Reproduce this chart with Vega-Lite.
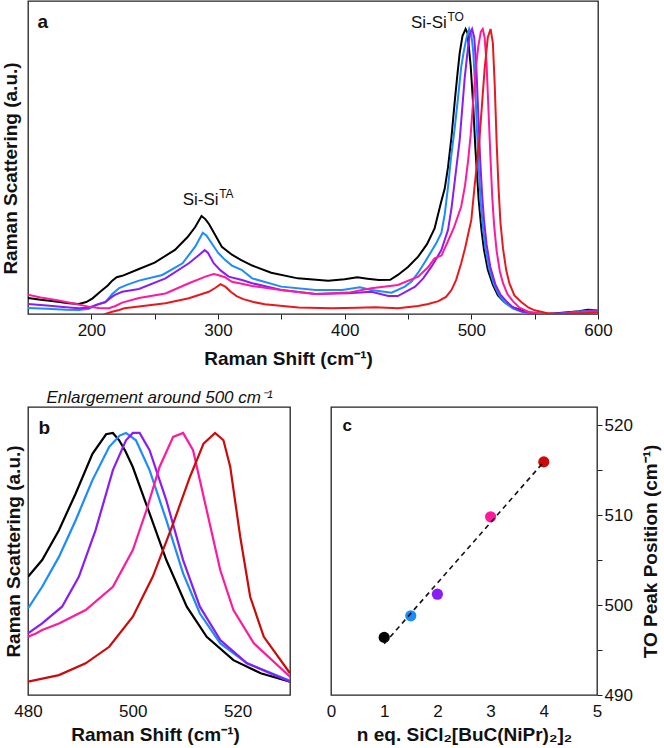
{
"$schema": "https://vega.github.io/schema/vega-lite/v6.json",
"background": "white",
"padding": {"left": 0, "top": 0, "right": 0, "bottom": 0},
"config": {
  "font": "Liberation Sans",
  "view": {"stroke": "#222222", "strokeWidth": 1.3},
  "axis": {"labelFont": "Liberation Sans", "titleFont": "Liberation Sans", "labelFontSize": 17, "titleFontSize": 19, "titleFontWeight": "bold", "labelColor": "#111111", "titleColor": "#111111", "grid": false, "domain": false, "tickColor": "#222222", "labelOverlap": false, "labelFlush": false},
  "legend": {"disable": true}
},
"datasets": {
  "spectra": [
    {"sample":"1 eq","shift":150,"intensity":5.6},{"sample":"1 eq","shift":160,"intensity":5.0},{"sample":"1 eq","shift":172,"intensity":4.4},{"sample":"1 eq","shift":182,"intensity":3.8},{"sample":"1 eq","shift":190,"intensity":3.5},{"sample":"1 eq","shift":196,"intensity":4.2},{"sample":"1 eq","shift":201,"intensity":5.5},{"sample":"1 eq","shift":207,"intensity":7.8},{"sample":"1 eq","shift":213,"intensity":10},{"sample":"1 eq","shift":216.5,"intensity":11.7},{"sample":"1 eq","shift":220,"intensity":12.9},{"sample":"1 eq","shift":224.4,"intensity":13.4},{"sample":"1 eq","shift":237.6,"intensity":15.8},{"sample":"1 eq","shift":250,"intensity":18},{"sample":"1 eq","shift":266,"intensity":22.5},{"sample":"1 eq","shift":276,"intensity":27},{"sample":"1 eq","shift":282,"intensity":30.5},{"sample":"1 eq","shift":287,"intensity":34.4},{"sample":"1 eq","shift":290,"intensity":33.3},{"sample":"1 eq","shift":293,"intensity":31.5},{"sample":"1 eq","shift":298,"intensity":27.5},{"sample":"1 eq","shift":303,"intensity":23.6},{"sample":"1 eq","shift":311,"intensity":20.8},{"sample":"1 eq","shift":318,"intensity":19},{"sample":"1 eq","shift":327,"intensity":17},{"sample":"1 eq","shift":342,"intensity":14.5},{"sample":"1 eq","shift":363,"intensity":12.5},{"sample":"1 eq","shift":387,"intensity":11.7},{"sample":"1 eq","shift":400,"intensity":12.2},{"sample":"1 eq","shift":410,"intensity":12.9},{"sample":"1 eq","shift":418,"intensity":12.4},{"sample":"1 eq","shift":427,"intensity":11.9},{"sample":"1 eq","shift":436,"intensity":12.0},{"sample":"1 eq","shift":442,"intensity":13.7},{"sample":"1 eq","shift":450,"intensity":16.5},{"sample":"1 eq","shift":458,"intensity":20.1},{"sample":"1 eq","shift":465,"intensity":24.5},{"sample":"1 eq","shift":471,"intensity":30},{"sample":"1 eq","shift":476,"intensity":39},{"sample":"1 eq","shift":479,"intensity":44},{"sample":"1 eq","shift":481.6,"intensity":51.5},{"sample":"1 eq","shift":484.3,"intensity":62},{"sample":"1 eq","shift":487,"intensity":75},{"sample":"1 eq","shift":489,"intensity":84},{"sample":"1 eq","shift":490.8,"intensity":91.5},{"sample":"1 eq","shift":493,"intensity":97.5},{"sample":"1 eq","shift":495.5,"intensity":100},{"sample":"1 eq","shift":497,"intensity":98.5},{"sample":"1 eq","shift":499.5,"intensity":87},{"sample":"1 eq","shift":501.5,"intensity":73},{"sample":"1 eq","shift":503.2,"intensity":58},{"sample":"1 eq","shift":505.8,"intensity":40},{"sample":"1 eq","shift":508,"intensity":29.5},{"sample":"1 eq","shift":510,"intensity":22.5},{"sample":"1 eq","shift":513,"intensity":15.5},{"sample":"1 eq","shift":517,"intensity":10.2},{"sample":"1 eq","shift":521,"intensity":6.5},{"sample":"1 eq","shift":526,"intensity":4.2},{"sample":"1 eq","shift":532,"intensity":2.5},{"sample":"1 eq","shift":539.4,"intensity":1.3},{"sample":"1 eq","shift":546,"intensity":0.5},{"sample":"1 eq","shift":555,"intensity":0},{"sample":"1 eq","shift":565,"intensity":0.2},{"sample":"1 eq","shift":576,"intensity":0.6},{"sample":"1 eq","shift":585,"intensity":1.0},{"sample":"1 eq","shift":592,"intensity":1.5},{"sample":"1 eq","shift":600,"intensity":1.3},
    {"sample":"1.5 eq","shift":150,"intensity":2.1},{"sample":"1.5 eq","shift":165,"intensity":1.8},{"sample":"1.5 eq","shift":180,"intensity":1.5},{"sample":"1.5 eq","shift":190,"intensity":1.4},{"sample":"1.5 eq","shift":198,"intensity":1.8},{"sample":"1.5 eq","shift":204,"intensity":3.2},{"sample":"1.5 eq","shift":211,"intensity":4.1},{"sample":"1.5 eq","shift":216.5,"intensity":7},{"sample":"1.5 eq","shift":222,"intensity":9.1},{"sample":"1.5 eq","shift":228,"intensity":10.2},{"sample":"1.5 eq","shift":237.6,"intensity":11.7},{"sample":"1.5 eq","shift":256,"intensity":13.7},{"sample":"1.5 eq","shift":272,"intensity":17.8},{"sample":"1.5 eq","shift":282,"intensity":23.6},{"sample":"1.5 eq","shift":288,"intensity":28.5},{"sample":"1.5 eq","shift":291,"intensity":27.5},{"sample":"1.5 eq","shift":295,"intensity":24.8},{"sample":"1.5 eq","shift":300,"intensity":21.5},{"sample":"1.5 eq","shift":305.5,"intensity":19},{"sample":"1.5 eq","shift":311,"intensity":17},{"sample":"1.5 eq","shift":318.6,"intensity":15.5},{"sample":"1.5 eq","shift":327,"intensity":12.5},{"sample":"1.5 eq","shift":350,"intensity":9.6},{"sample":"1.5 eq","shift":377,"intensity":8.4},{"sample":"1.5 eq","shift":398,"intensity":8.4},{"sample":"1.5 eq","shift":412,"intensity":9.4},{"sample":"1.5 eq","shift":421,"intensity":8.4},{"sample":"1.5 eq","shift":437,"intensity":7.5},{"sample":"1.5 eq","shift":447.5,"intensity":9.6},{"sample":"1.5 eq","shift":453,"intensity":11.5},{"sample":"1.5 eq","shift":458,"intensity":14.5},{"sample":"1.5 eq","shift":463,"intensity":18},{"sample":"1.5 eq","shift":468.5,"intensity":22},{"sample":"1.5 eq","shift":472.5,"intensity":25},{"sample":"1.5 eq","shift":476.4,"intensity":28.5},{"sample":"1.5 eq","shift":479,"intensity":35},{"sample":"1.5 eq","shift":481.6,"intensity":44.6},{"sample":"1.5 eq","shift":484,"intensity":55},{"sample":"1.5 eq","shift":487,"intensity":65.6},{"sample":"1.5 eq","shift":490,"intensity":78},{"sample":"1.5 eq","shift":492,"intensity":86.6},{"sample":"1.5 eq","shift":494,"intensity":92},{"sample":"1.5 eq","shift":496,"intensity":96.5},{"sample":"1.5 eq","shift":498.3,"intensity":100},{"sample":"1.5 eq","shift":500,"intensity":98},{"sample":"1.5 eq","shift":501.5,"intensity":92},{"sample":"1.5 eq","shift":503,"intensity":80},{"sample":"1.5 eq","shift":504.5,"intensity":64},{"sample":"1.5 eq","shift":506,"intensity":50},{"sample":"1.5 eq","shift":507.5,"intensity":38.5},{"sample":"1.5 eq","shift":509.5,"intensity":29},{"sample":"1.5 eq","shift":511.5,"intensity":22},{"sample":"1.5 eq","shift":514,"intensity":16},{"sample":"1.5 eq","shift":518,"intensity":10.2},{"sample":"1.5 eq","shift":522,"intensity":6.5},{"sample":"1.5 eq","shift":527,"intensity":3.8},{"sample":"1.5 eq","shift":533,"intensity":1.9},{"sample":"1.5 eq","shift":540,"intensity":0.8},{"sample":"1.5 eq","shift":548,"intensity":0.2},{"sample":"1.5 eq","shift":557,"intensity":0},{"sample":"1.5 eq","shift":570,"intensity":0.2},{"sample":"1.5 eq","shift":585,"intensity":0.9},{"sample":"1.5 eq","shift":600,"intensity":1.4},
    {"sample":"2 eq","shift":150,"intensity":3.5},{"sample":"2 eq","shift":165,"intensity":3.0},{"sample":"2 eq","shift":180,"intensity":2.4},{"sample":"2 eq","shift":190,"intensity":2.0},{"sample":"2 eq","shift":198,"intensity":2.2},{"sample":"2 eq","shift":206,"intensity":3.5},{"sample":"2 eq","shift":211,"intensity":4.2},{"sample":"2 eq","shift":216.5,"intensity":6.1},{"sample":"2 eq","shift":219,"intensity":6.8},{"sample":"2 eq","shift":224.4,"intensity":7.8},{"sample":"2 eq","shift":237.6,"intensity":8.8},{"sample":"2 eq","shift":258.5,"intensity":12.5},{"sample":"2 eq","shift":277,"intensity":17.8},{"sample":"2 eq","shift":285,"intensity":20.7},{"sample":"2 eq","shift":289.5,"intensity":22.4},{"sample":"2 eq","shift":292,"intensity":21.5},{"sample":"2 eq","shift":296.6,"intensity":17.8},{"sample":"2 eq","shift":302,"intensity":15.3},{"sample":"2 eq","shift":308.4,"intensity":13.1},{"sample":"2 eq","shift":318.9,"intensity":11.9},{"sample":"2 eq","shift":327,"intensity":10.8},{"sample":"2 eq","shift":350,"intensity":8.4},{"sample":"2 eq","shift":377,"intensity":7.0},{"sample":"2 eq","shift":403,"intensity":7.3},{"sample":"2 eq","shift":421,"intensity":7.8},{"sample":"2 eq","shift":434.5,"intensity":6.3},{"sample":"2 eq","shift":442,"intensity":6.3},{"sample":"2 eq","shift":455.6,"intensity":9.6},{"sample":"2 eq","shift":462,"intensity":12.5},{"sample":"2 eq","shift":468.5,"intensity":16.6},{"sample":"2 eq","shift":472.5,"intensity":19.5},{"sample":"2 eq","shift":476.4,"intensity":22.5},{"sample":"2 eq","shift":479,"intensity":26},{"sample":"2 eq","shift":481.6,"intensity":29.5},{"sample":"2 eq","shift":484.3,"intensity":37},{"sample":"2 eq","shift":487,"intensity":47},{"sample":"2 eq","shift":490.8,"intensity":61},{"sample":"2 eq","shift":494.8,"intensity":83},{"sample":"2 eq","shift":497.5,"intensity":94},{"sample":"2 eq","shift":499,"intensity":98.5},{"sample":"2 eq","shift":500.6,"intensity":100},{"sample":"2 eq","shift":502.3,"intensity":97},{"sample":"2 eq","shift":504,"intensity":86},{"sample":"2 eq","shift":505.5,"intensity":70},{"sample":"2 eq","shift":507,"intensity":54},{"sample":"2 eq","shift":508.5,"intensity":42},{"sample":"2 eq","shift":510,"intensity":33},{"sample":"2 eq","shift":512,"intensity":24.5},{"sample":"2 eq","shift":515,"intensity":16.5},{"sample":"2 eq","shift":518.9,"intensity":10.5},{"sample":"2 eq","shift":523,"intensity":6.8},{"sample":"2 eq","shift":527.6,"intensity":4.5},{"sample":"2 eq","shift":533,"intensity":2.3},{"sample":"2 eq","shift":540,"intensity":0.9},{"sample":"2 eq","shift":550,"intensity":0.2},{"sample":"2 eq","shift":560,"intensity":0},{"sample":"2 eq","shift":575,"intensity":0.3},{"sample":"2 eq","shift":590,"intensity":0.9},{"sample":"2 eq","shift":600,"intensity":1.0},
    {"sample":"3 eq","shift":150,"intensity":6.8},{"sample":"3 eq","shift":160,"intensity":5.8},{"sample":"3 eq","shift":172,"intensity":4.9},{"sample":"3 eq","shift":188,"intensity":3.5},{"sample":"3 eq","shift":198.5,"intensity":2.5},{"sample":"3 eq","shift":206,"intensity":2.1},{"sample":"3 eq","shift":214,"intensity":2.0},{"sample":"3 eq","shift":219,"intensity":2.8},{"sample":"3 eq","shift":224.4,"intensity":4.0},{"sample":"3 eq","shift":237.6,"intensity":5.6},{"sample":"3 eq","shift":258.5,"intensity":7.2},{"sample":"3 eq","shift":277,"intensity":10.8},{"sample":"3 eq","shift":290,"intensity":13.1},{"sample":"3 eq","shift":296.6,"intensity":14.0},{"sample":"3 eq","shift":300,"intensity":13.7},{"sample":"3 eq","shift":305.5,"intensity":12.9},{"sample":"3 eq","shift":311,"intensity":11.3},{"sample":"3 eq","shift":318.9,"intensity":10.6},{"sample":"3 eq","shift":327,"intensity":9.8},{"sample":"3 eq","shift":350,"intensity":8.4},{"sample":"3 eq","shift":377,"intensity":7.0},{"sample":"3 eq","shift":403,"intensity":7.5},{"sample":"3 eq","shift":421,"intensity":9.0},{"sample":"3 eq","shift":442,"intensity":10.2},{"sample":"3 eq","shift":458,"intensity":13.1},{"sample":"3 eq","shift":466,"intensity":16.5},{"sample":"3 eq","shift":471,"intensity":19.5},{"sample":"3 eq","shift":476.4,"intensity":20.5},{"sample":"3 eq","shift":481,"intensity":25},{"sample":"3 eq","shift":486,"intensity":30},{"sample":"3 eq","shift":492,"intensity":37.7},{"sample":"3 eq","shift":495,"intensity":45},{"sample":"3 eq","shift":497.5,"intensity":54},{"sample":"3 eq","shift":499.5,"intensity":63},{"sample":"3 eq","shift":501.5,"intensity":75},{"sample":"3 eq","shift":503.5,"intensity":86},{"sample":"3 eq","shift":505.5,"intensity":94},{"sample":"3 eq","shift":507.5,"intensity":99},{"sample":"3 eq","shift":509,"intensity":100},{"sample":"3 eq","shift":510.5,"intensity":97},{"sample":"3 eq","shift":512,"intensity":88},{"sample":"3 eq","shift":513.5,"intensity":72},{"sample":"3 eq","shift":515,"intensity":56},{"sample":"3 eq","shift":516.5,"intensity":41},{"sample":"3 eq","shift":518,"intensity":31},{"sample":"3 eq","shift":520,"intensity":22},{"sample":"3 eq","shift":522.5,"intensity":15},{"sample":"3 eq","shift":525,"intensity":10.8},{"sample":"3 eq","shift":528.5,"intensity":7},{"sample":"3 eq","shift":532.8,"intensity":4.5},{"sample":"3 eq","shift":538,"intensity":2.2},{"sample":"3 eq","shift":545,"intensity":0.8},{"sample":"3 eq","shift":555,"intensity":0.1},{"sample":"3 eq","shift":575,"intensity":0.2},{"sample":"3 eq","shift":590,"intensity":0.8},{"sample":"3 eq","shift":600,"intensity":0.9},
    {"sample":"4 eq","shift":150,"intensity":-4},{"sample":"4 eq","shift":180,"intensity":-4},{"sample":"4 eq","shift":200,"intensity":-2},{"sample":"4 eq","shift":211,"intensity":0},{"sample":"4 eq","shift":216.5,"intensity":0.8},{"sample":"4 eq","shift":222,"intensity":1.4},{"sample":"4 eq","shift":226,"intensity":2.0},{"sample":"4 eq","shift":237.6,"intensity":2.6},{"sample":"4 eq","shift":258.5,"intensity":3.8},{"sample":"4 eq","shift":277,"intensity":5.5},{"sample":"4 eq","shift":292.7,"intensity":7.8},{"sample":"4 eq","shift":298,"intensity":9.2},{"sample":"4 eq","shift":302,"intensity":10.5},{"sample":"4 eq","shift":306,"intensity":9.5},{"sample":"4 eq","shift":310,"intensity":7.8},{"sample":"4 eq","shift":315,"intensity":6.2},{"sample":"4 eq","shift":320,"intensity":5.2},{"sample":"4 eq","shift":328,"intensity":4.2},{"sample":"4 eq","shift":337,"intensity":3.4},{"sample":"4 eq","shift":363.5,"intensity":2.3},{"sample":"4 eq","shift":389.7,"intensity":2.0},{"sample":"4 eq","shift":410,"intensity":2.2},{"sample":"4 eq","shift":424,"intensity":2.4},{"sample":"4 eq","shift":442,"intensity":2.0},{"sample":"4 eq","shift":458,"intensity":2.8},{"sample":"4 eq","shift":466,"intensity":3.5},{"sample":"4 eq","shift":474,"intensity":4.5},{"sample":"4 eq","shift":480,"intensity":6.0},{"sample":"4 eq","shift":484.3,"intensity":8.4},{"sample":"4 eq","shift":488,"intensity":12},{"sample":"4 eq","shift":492,"intensity":17.8},{"sample":"4 eq","shift":495,"intensity":23},{"sample":"4 eq","shift":498,"intensity":29},{"sample":"4 eq","shift":500,"intensity":33},{"sample":"4 eq","shift":502.6,"intensity":45},{"sample":"4 eq","shift":504.5,"intensity":53},{"sample":"4 eq","shift":506.5,"intensity":62},{"sample":"4 eq","shift":508.5,"intensity":74},{"sample":"4 eq","shift":510.5,"intensity":86},{"sample":"4 eq","shift":513,"intensity":97},{"sample":"4 eq","shift":515.2,"intensity":100},{"sample":"4 eq","shift":517,"intensity":95},{"sample":"4 eq","shift":518.5,"intensity":80},{"sample":"4 eq","shift":520,"intensity":60},{"sample":"4 eq","shift":521.5,"intensity":44},{"sample":"4 eq","shift":523,"intensity":32},{"sample":"4 eq","shift":525,"intensity":23},{"sample":"4 eq","shift":527.5,"intensity":15.5},{"sample":"4 eq","shift":530,"intensity":10.8},{"sample":"4 eq","shift":534,"intensity":6.5},{"sample":"4 eq","shift":539.4,"intensity":4.2},{"sample":"4 eq","shift":545,"intensity":2.3},{"sample":"4 eq","shift":550,"intensity":1.3},{"sample":"4 eq","shift":560,"intensity":0.3},{"sample":"4 eq","shift":570,"intensity":0},{"sample":"4 eq","shift":585,"intensity":0.2},{"sample":"4 eq","shift":600,"intensity":0.5}
  ],
  "bands": [
    {"label":"Si-Si","sup":"TA","shift":300.5,"intensity":38.2},
    {"label":"Si-Si","sup":"TO","shift":480.7,"intensity":100.2}
  ],
  "enlarged": [
    {"sample":"1 eq","shift":480,"intensity":45.1},{"sample":"1 eq","shift":482.7,"intensity":51.5},{"sample":"1 eq","shift":485.9,"intensity":62.9},{"sample":"1 eq","shift":489.1,"intensity":76.9},{"sample":"1 eq","shift":492.3,"intensity":92},{"sample":"1 eq","shift":494.9,"intensity":99.5},{"sample":"1 eq","shift":496.2,"intensity":100},{"sample":"1 eq","shift":497.4,"intensity":97.2},{"sample":"1 eq","shift":498.6,"intensity":93},{"sample":"1 eq","shift":500,"intensity":87},{"sample":"1 eq","shift":503.2,"intensity":69.3},{"sample":"1 eq","shift":506.4,"intensity":51.5},{"sample":"1 eq","shift":510.3,"intensity":33.7},{"sample":"1 eq","shift":514.1,"intensity":22.2},{"sample":"1 eq","shift":519.2,"intensity":13.3},{"sample":"1 eq","shift":524.4,"intensity":8.3},{"sample":"1 eq","shift":530,"intensity":5.1},
    {"sample":"1.5 eq","shift":480,"intensity":33},{"sample":"1.5 eq","shift":482.7,"intensity":41.3},{"sample":"1.5 eq","shift":485.9,"intensity":52.7},{"sample":"1.5 eq","shift":489.1,"intensity":66.7},{"sample":"1.5 eq","shift":492.3,"intensity":82},{"sample":"1.5 eq","shift":495.5,"intensity":94.7},{"sample":"1.5 eq","shift":497.5,"intensity":99},{"sample":"1.5 eq","shift":498.7,"intensity":100},{"sample":"1.5 eq","shift":500.6,"intensity":97.2},{"sample":"1.5 eq","shift":503.2,"intensity":85.8},{"sample":"1.5 eq","shift":506.4,"intensity":66.7},{"sample":"1.5 eq","shift":509.6,"intensity":46.4},{"sample":"1.5 eq","shift":512.8,"intensity":31.1},{"sample":"1.5 eq","shift":516.7,"intensity":19.7},{"sample":"1.5 eq","shift":521.8,"intensity":12.1},{"sample":"1.5 eq","shift":530,"intensity":5.5},
    {"sample":"2 eq","shift":480,"intensity":23.5},{"sample":"2 eq","shift":482.7,"intensity":27.3},{"sample":"2 eq","shift":486.5,"intensity":33.7},{"sample":"2 eq","shift":489.7,"intensity":45.1},{"sample":"2 eq","shift":492.9,"intensity":62.9},{"sample":"2 eq","shift":496.2,"intensity":85.8},{"sample":"2 eq","shift":498.7,"intensity":97.2},{"sample":"2 eq","shift":500,"intensity":100},{"sample":"2 eq","shift":501.3,"intensity":100},{"sample":"2 eq","shift":503.2,"intensity":93.4},{"sample":"2 eq","shift":506.4,"intensity":74.3},{"sample":"2 eq","shift":509.6,"intensity":51.5},{"sample":"2 eq","shift":512.8,"intensity":33.7},{"sample":"2 eq","shift":516.7,"intensity":21},{"sample":"2 eq","shift":521.8,"intensity":12.1},{"sample":"2 eq","shift":530,"intensity":5.1},
    {"sample":"3 eq","shift":480,"intensity":22.2},{"sample":"3 eq","shift":481.5,"intensity":23.5},{"sample":"3 eq","shift":482.7,"intensity":24.8},{"sample":"3 eq","shift":485.9,"intensity":27.3},{"sample":"3 eq","shift":491,"intensity":32.4},{"sample":"3 eq","shift":496.2,"intensity":41.3},{"sample":"3 eq","shift":500,"intensity":55.3},{"sample":"3 eq","shift":502.6,"intensity":70.5},{"sample":"3 eq","shift":505.1,"intensity":87},{"sample":"3 eq","shift":507.7,"intensity":98.5},{"sample":"3 eq","shift":509.6,"intensity":100},{"sample":"3 eq","shift":511.5,"intensity":93.4},{"sample":"3 eq","shift":514.1,"intensity":70.5},{"sample":"3 eq","shift":516.7,"intensity":47.6},{"sample":"3 eq","shift":519.2,"intensity":32.4},{"sample":"3 eq","shift":523.1,"intensity":19.7},{"sample":"3 eq","shift":530,"intensity":7},
    {"sample":"4 eq","shift":480,"intensity":5.1},{"sample":"4 eq","shift":485.9,"intensity":7.6},{"sample":"4 eq","shift":491,"intensity":12.1},{"sample":"4 eq","shift":495.5,"intensity":18.4},{"sample":"4 eq","shift":500,"intensity":29.9},{"sample":"4 eq","shift":503.8,"intensity":45.1},{"sample":"4 eq","shift":507.7,"intensity":65.4},{"sample":"4 eq","shift":510.9,"intensity":83.2},{"sample":"4 eq","shift":513.5,"intensity":95.9},{"sample":"4 eq","shift":515.7,"intensity":100},{"sample":"4 eq","shift":517.3,"intensity":97.2},{"sample":"4 eq","shift":518.6,"intensity":87},{"sample":"4 eq","shift":520.5,"intensity":60.4},{"sample":"4 eq","shift":522.4,"intensity":37.5},{"sample":"4 eq","shift":525,"intensity":22.2},{"sample":"4 eq","shift":530,"intensity":8.3}
  ],
  "peaks": [
    {"sample":"1 eq","n":1,"position":496.4},
    {"sample":"1.5 eq","n":1.5,"position":498.8},
    {"sample":"2 eq","n":2,"position":501.2},
    {"sample":"3 eq","n":3,"position":509.8},
    {"sample":"4 eq","n":4,"position":515.9}
  ],
  "fit": [
    {"n":1,"position":495.7},
    {"n":4,"position":515.9}
  ]
},
"bounds": "flush",
"spacing": 93,
"resolve": {"scale": {"color": "independent", "x": "independent", "y": "independent"}},
"vconcat": [
  {
    "width": 570,
    "height": 313,
    "encoding": {
      "y": {"field": "intensity", "type": "quantitative", "scale": {"domain": [0, 109.8], "nice": false, "zero": false},
            "axis": {"title": "Raman Scattering (a.u.)", "labels": false, "ticks": false, "titlePadding": 8, "titleY": 167}}
    },
    "layer": [
      {"data": {"name": "spectra"},
       "mark": {"type": "line", "strokeWidth": 2, "clip": true},
       "encoding": {
         "x": {"field": "shift", "type": "quantitative", "scale": {"domain": [150, 600], "nice": false, "zero": false},
               "axis": {"title": "Raman Shift (cm⁻¹)", "values": [200,250,300,350,400,450,500,550,600], "labelExpr": "datum.value % 100 === 0 ? datum.label : ''", "tickSize": 5, "labelPadding": 3, "titlePadding": 11, "titleX": 260}},
         "color": {"field": "sample", "type": "nominal", "scale": {"domain": ["1 eq","1.5 eq","2 eq","3 eq","4 eq"], "range": ["#000000","#1a8cff","#8a1cf5","#ff1a9c","#e8191e"]}, "legend": null}}},
      {"data": {"name": "bands"},
       "mark": {"type": "text", "align": "right", "baseline": "alphabetic", "fontSize": 17, "font": "Liberation Sans", "color": "#111111"},
       "encoding": {
         "x": {"field": "shift", "type": "quantitative",
               "axis": {"orient": "top", "labels": false, "ticks": false, "title": "a", "titleX": 9, "titleY": 26, "titleAngle": 0, "titleAlign": "left", "titleAnchor": "start", "titleBaseline": "alphabetic", "titleFontSize": 19}},
         "text": {"field": "label"}}},
      {"data": {"name": "bands"},
       "mark": {"type": "text", "align": "left", "baseline": "alphabetic", "fontSize": 12, "dy": -7, "dx": 0.5, "font": "Liberation Sans", "color": "#111111"},
       "encoding": {
         "x": {"field": "shift", "type": "quantitative", "axis": null},
         "text": {"field": "sup"}}}
    ],
    "resolve": {"axis": {"x": "independent"}}
  },
  {
    "bounds": "flush",
    "spacing": 41,
    "resolve": {"scale": {"color": "independent", "x": "independent", "y": "independent"}},
    "hconcat": [
      {
        "width": 262,
        "height": 288,
        "data": {"name": "enlarged"},
        "encoding": {
          "color": {"field": "sample", "type": "nominal", "scale": {"domain": ["1 eq","1.5 eq","2 eq","3 eq","4 eq"], "range": ["#000000","#1a8cff","#8a1cf5","#ff1a9c","#cc0a0a"]}, "legend": null}
        },
        "layer": [
          {"mark": {"type": "line", "strokeWidth": 2.2, "clip": true},
           "encoding": {
             "x": {"field": "shift", "type": "quantitative", "scale": {"domain": [480, 530], "nice": false, "zero": false},
                   "axis": {"title": "Raman Shift (cm⁻¹)", "values": [480, 500, 520], "ticks": false, "labelPadding": 8, "titlePadding": 6, "titleX": 127}},
             "y": {"field": "intensity", "type": "quantitative", "scale": {"domain": [0, 109.9], "nice": false, "zero": false},
                   "axis": {"title": "Raman Scattering (a.u.)", "labels": false, "ticks": false, "titlePadding": 5}}}},
          {"mark": {"type": "line", "opacity": 0, "clip": true},
           "encoding": {
             "x": {"field": "shift", "type": "quantitative",
                   "axis": {"orient": "top", "labels": false, "ticks": false, "title": "Enlargement around 500 cm⁻¹", "titleFontStyle": "italic", "titleFontWeight": "normal", "titleFontSize": 17, "titlePadding": 5, "titleBaseline": "alphabetic"}},
             "y": {"field": "intensity", "type": "quantitative",
                   "axis": {"orient": "right", "labels": false, "ticks": false, "title": "b", "titleX": -252, "titleY": 26, "titleAngle": 0, "titleAlign": "left", "titleBaseline": "alphabetic", "titleFontSize": 19}}}}
        ],
        "resolve": {"axis": {"x": "independent", "y": "independent"}}
      },
      {
        "width": 266,
        "height": 288,
        "encoding": {
          "y": {"field": "position", "type": "quantitative", "scale": {"domain": [490, 522], "nice": false, "zero": false},
                "axis": {"orient": "right", "title": "TO Peak Position (cm⁻¹)", "values": [490,495,500,505,510,515,520], "labelExpr": "datum.value % 10 === 0 ? datum.label : ''", "tickSize": 5, "labelPadding": 2, "titlePadding": 9, "titleAngle": 270, "titleBaseline": "top"}}
        },
        "layer": [
          {"data": {"name": "peaks"},
           "mark": {"type": "circle", "size": 125, "opacity": 1},
           "encoding": {
             "x": {"field": "n", "type": "quantitative", "scale": {"domain": [0, 5], "nice": false, "zero": false},
                   "axis": {"title": "n eq. SiCl₂[BuC(NiPr)₂]₂", "values": [0,1,2,3,4,5], "ticks": false, "labelPadding": 8, "titlePadding": 6}},
             "color": {"field": "sample", "type": "nominal", "scale": {"domain": ["1 eq","1.5 eq","2 eq","3 eq","4 eq"], "range": ["#000000","#1a8cff","#8a1cf5","#ff1a9c","#cc0a0a"]}, "legend": null}}},
          {"data": {"name": "fit"},
           "mark": {"type": "line", "color": "#111111", "strokeWidth": 1.6, "strokeDash": [5, 4]},
           "encoding": {
             "x": {"field": "n", "type": "quantitative",
                   "axis": {"orient": "top", "labels": false, "ticks": false, "title": "c", "titleX": 11, "titleY": 23, "titleAngle": 0, "titleAlign": "left", "titleAnchor": "start", "titleBaseline": "alphabetic", "titleFontSize": 17}}}}
        ],
        "resolve": {"axis": {"x": "independent"}}
      }
    ]
  }
]
}
